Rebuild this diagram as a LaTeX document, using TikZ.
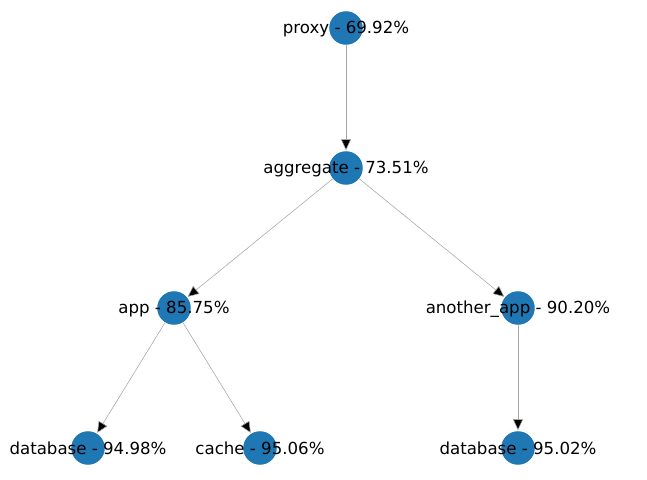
\documentclass[tikz,border=0pt]{standalone}
\usepackage{fontspec}
\setmainfont{DejaVu Sans}
\usetikzlibrary{arrows.meta}
\definecolor{nxblue}{HTML}{1F77B4}
\begin{document}
\begin{tikzpicture}[x=0.01in,y=-0.01in,
  vert/.style={circle, fill=nxblue, minimum size=0.335in, inner sep=0pt},
  lab/.style={font=\fontsize{12}{14}\selectfont, text=black, inner sep=0pt, yshift=-0.008in},
  edge/.style={draw=black!35, line width=0.4pt, -{Triangle[length=0.11in,width=0.1in,fill=black]}, shorten >=0.5pt}]
\useasboundingbox (0,0) rectangle (647,480);
\node[vert] (proxy) at (346,28) {};
\node[vert] (aggregate) at (346,168) {};
\node[vert] (app) at (174,308) {};
\node[vert] (another) at (518,308) {};
\node[vert] (db1) at (88,448) {};
\node[vert] (cache) at (260,448) {};
\node[vert] (db2) at (518,448) {};
\draw[edge] (proxy) -- (aggregate);
\draw[edge] (aggregate) -- (app);
\draw[edge] (aggregate) -- (another);
\draw[edge] (app) -- (db1);
\draw[edge] (app) -- (cache);
\draw[edge] (another) -- (db2);
\node[lab] (proxyl) at (proxy) {proxy - 69.92\%};
\node[lab] (aggregatel) at (aggregate) {aggregate - 73.51\%};
\node[lab] (appl) at (app) {app - 85.75\%};
\node[lab] (anotherl) at (another) {another\_app - 90.20\%};
\node[lab] (db1l) at (db1) {database - 94.98\%};
\node[lab] (cachel) at (cache) {cache - 95.06\%};
\node[lab] (db2l) at (db2) {database - 95.02\%};
\end{tikzpicture}
\end{document}
